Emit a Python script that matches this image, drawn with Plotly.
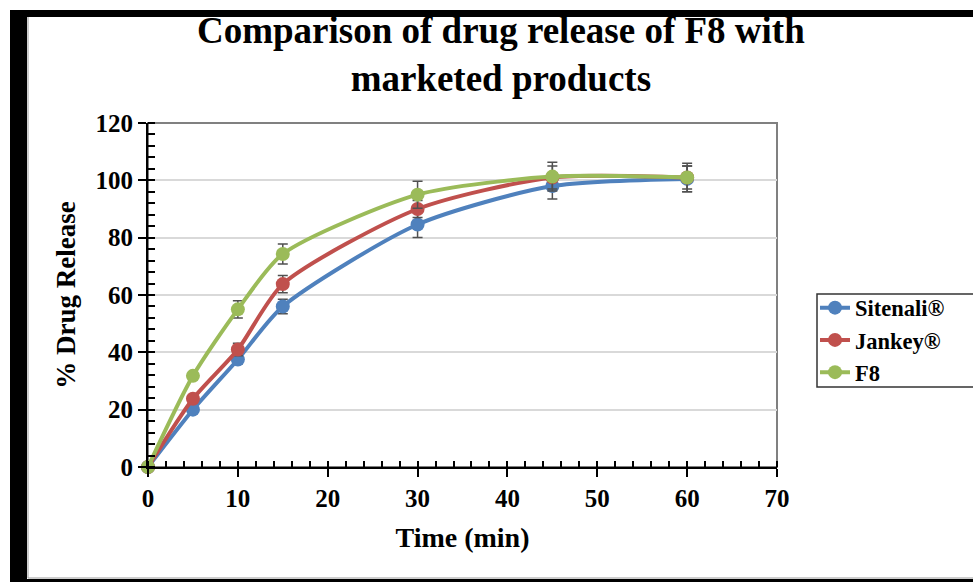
import plotly.graph_objects as go

time_min = [0, 5, 10, 15, 30, 45, 60]
sitenali = [0, 20, 37.5, 56, 84.6, 98, 100.5]
jankey = [0, 23.8, 41, 63.8, 90, 101, 101]
f8 = [0, 31.8, 55, 74.3, 95, 101.3, 101]
sitenali_err = [0, 1, 1.5, 2.5, 4.5, 4.5, 4.5]
jankey_err = [0, 1, 2.2, 3, 3, 4, 4]
f8_err = [0, 1, 3, 3.5, 4.7, 5, 5]
series_names = ["Sitenali®", "Jankey®", "F8"]
x_ticks = [0, 10, 20, 30, 40, 50, 60, 70]
y_ticks = [0, 20, 40, 60, 80, 100, 120]

colors = ["#4F81BD", "#C0504D", "#9BBB59"]
FONT = "Liberation Serif, Times New Roman, serif"

# plot area in pixels
W, H = 973, 582
L, R, T, B = 148, 777, 123, 467

fig = go.Figure()
for name, vals, err, col in zip(series_names, [sitenali, jankey, f8],
                                [sitenali_err, jankey_err, f8_err], colors):
    fig.add_trace(go.Scatter(
        x=time_min, y=vals, name=name, mode="lines+markers",
        line=dict(color=col, width=4, shape="spline", smoothing=0.7),
        marker=dict(color=col, size=14, symbol="circle"),
        error_y=dict(type="data", array=err, visible=True,
                     color="#505050", thickness=1.5, width=5),
        cliponaxis=False,
    ))

def px_x(p):
    return (p - L) / (R - L)

def px_y(p):
    return (B - p) / (B - T)

shapes = [
    # plot area border (gray, top/right)
    dict(type="rect", xref="x domain", yref="y domain", x0=0, x1=1, y0=0, y1=1,
         line=dict(color="#808080", width=2), layer="below"),
    # legend box
    dict(type="rect", xref="paper", yref="paper", x0=px_x(817), x1=px_x(990),
         y0=px_y(387), y1=px_y(294), line=dict(color="#333333", width=1.5),
         fillcolor="white", layer="below"),
    # outer black frame pieces
    dict(type="rect", xref="paper", yref="paper", x0=px_x(10), x1=px_x(27),
         y0=px_y(590), y1=px_y(11), fillcolor="black", line=dict(width=0)),
    dict(type="rect", xref="paper", yref="paper", x0=px_x(10), x1=px_x(990),
         y0=px_y(17), y1=px_y(10), fillcolor="black", line=dict(width=0)),
    dict(type="rect", xref="paper", yref="paper", x0=px_x(10), x1=px_x(990),
         y0=px_y(590), y1=px_y(579), fillcolor="black", line=dict(width=0)),
    dict(type="line", xref="paper", yref="paper", x0=px_x(28), x1=px_x(28),
         y0=px_y(578), y1=px_y(17), line=dict(color="#9a9a9a", width=1)),
    dict(type="line", xref="paper", yref="paper", x0=px_x(28), x1=px_x(990),
         y0=px_y(578), y1=px_y(578), line=dict(color="#9a9a9a", width=1)),
]

fig.update_layout(
    width=W, height=H,
    margin=dict(l=L, r=W - R, t=T, b=H - B),
    paper_bgcolor="white", plot_bgcolor="white",
    font=dict(family=FONT, color="black"),
    xaxis=dict(range=[0, 70], tickvals=x_ticks, showgrid=False, zeroline=False,
               showline=True, linecolor="black", linewidth=2,
               ticks="outside", ticklen=8, tickwidth=2, tickcolor="black",
               minor=dict(dtick=2, ticks="inside", ticklen=6, tickwidth=1.5,
                          tickcolor="black", showgrid=False),
               tickfont=dict(family=FONT, size=25, weight="bold"),
               title=dict(text="Time (min)", standoff=16,
                          font=dict(family=FONT, size=28, weight="bold"))),
    yaxis=dict(range=[0, 120], tickvals=y_ticks, showgrid=True,
               gridcolor="#d9d9d9", gridwidth=1.5, zeroline=False,
               showline=True, linecolor="black", linewidth=2,
               ticks="outside", ticklen=8, tickwidth=2, tickcolor="black",
               minor=dict(dtick=4, ticks="inside", ticklen=7, tickwidth=1.5,
                          tickcolor="black", showgrid=False),
               tickfont=dict(family=FONT, size=25, weight="bold"),
               title=dict(text="% Drug Release", standoff=12,
                          font=dict(family=FONT, size=27, weight="bold"))),
    legend=dict(x=px_x(815), xanchor="left", y=px_y(340), yanchor="middle",
                borderwidth=0, bgcolor="rgba(0,0,0,0)",
                font=dict(family=FONT, size=22.5, weight="bold", color="black"),
                itemwidth=30, tracegroupgap=0),
    annotations=[dict(
        text="Comparison of drug release of F8 with<br>marketed products",
        xref="paper", yref="paper", x=px_x(501), y=px_y(54),
        xanchor="center", yanchor="middle", showarrow=False, align="center",
        font=dict(family=FONT, size=37, weight="bold", color="black"))],
    shapes=shapes,
    showlegend=True,
)

fig.write_html("out.html")
